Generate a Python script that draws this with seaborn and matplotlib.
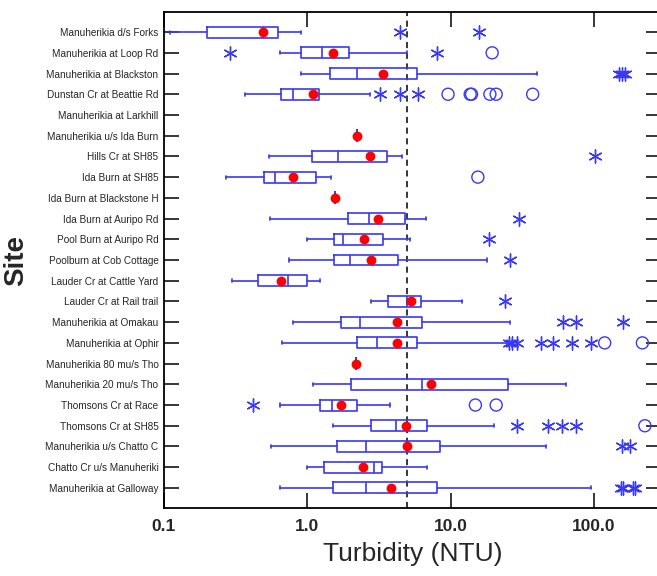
import numpy as np
import pandas as pd
import matplotlib
matplotlib.use("Agg")
import matplotlib.pyplot as plt
import seaborn as sns

sites = [
    "Manuherikia d/s Forks", "Manuherikia at Loop Rd", "Manuherikia at Blackston",
    "Dunstan Cr at Beattie Rd", "Manuherikia at Larkhill", "Manuherikia u/s Ida Burn",
    "Hills Cr at SH85", "Ida Burn at SH85", "Ida Burn at Blackstone H",
    "Ida Burn at Auripo Rd", "Pool Burn at Auripo Rd", "Poolburn at Cob Cottage",
    "Lauder Cr at Cattle Yard", "Lauder Cr at Rail trail", "Manuherikia at Omakau",
    "Manuherikia at Ophir", "Manuherikia 80 mu/s Tho", "Manuherikia 20 mu/s Tho",
    "Thomsons Cr at Race", "Thomsons Cr at SH85", "Manuherikia u/s Chatto C",
    "Chatto Cr u/s Manuheriki", "Manuherikia at Galloway",
]
# box statistics (NTU); None = no data
whis_lo = [0.11, 0.64, 0.90, 0.365, None, 2.24, 0.54, 0.27, 1.55, 0.545, 0.99, 0.75,
           0.30, 2.78, 0.79, 0.67, 2.18, 1.09, 0.64, 1.5, 0.56, 1.0, 0.65]
q1 = [0.20, 0.90, 1.43, 0.655, None, 2.24, 1.07, 0.50, 1.55, 1.92, 1.53, 1.53,
      0.45, 3.64, 1.71, 2.22, 2.18, 2.02, 1.23, 2.78, 1.6, 1.3, 1.5]
median = [0.49, 1.27, 2.21, 0.80, None, 2.24, 1.63, 0.595, 1.55, 2.68, 1.78, 2.0,
          0.73, 5.0, 2.32, 3.07, 2.18, 6.3, 1.49, 4.14, 2.58, 2.93, 2.58]
q3 = [0.62, 1.94, 5.81, 1.21, None, 2.24, 3.6, 1.15, 1.55, 4.8, 3.4, 4.3,
      1.0, 6.2, 6.3, 5.8, 2.18, 25.3, 2.22, 6.9, 8.5, 3.3, 8.0]
whis_hi = [0.91, 5.0, 40.3, 2.73, None, 2.24, 4.6, 1.46, 1.55, 6.7, 5.2, 17.9,
           1.22, 12.0, 26.1, 24.8, 2.18, 64.0, 3.8, 20.1, 46.6, 6.8, 95.0]
mean = [0.49, 1.52, 3.38, 1.09, None, 2.24, 2.75, 0.80, 1.55, 3.1, 2.5, 2.8,
        0.66, 5.3, 4.2, 4.2, 2.18, 7.3, 1.73, 4.9, 5.0, 2.46, 3.86]
# outliers: asterisks (outside) and circles (far outside)
star_out = [
    [4.47, 15.7], [0.29, 8.1], [150, 158, 165], [3.2, 4.4, 5.9], [], [],
    [101.6], [], [], [30.0], [18.6], [26.0], [], [23.8], [60.5, 75.5, 160],
    [25.6, 27.0, 29.0, 42.5, 51.6, 70.0, 96.0], [], [], [0.415],
    [29.0, 48.0, 59.5, 75.0], [157, 178], [], [155, 160, 188, 195],
]
circle_out = [
    [], [19.5], [], [9.6, 13.7, 14.0, 18.8, 20.8, 37.4], [], [], [], [15.5], [], [],
    [], [], [], [], [], [119, 218], [], [], [14.9, 20.8], [227], [], [], [],
]
guideline = 5.0
xticks = [0.1, 1.0, 10.0, 100.0]
xtick_labels = ["0.1", "1.0", "10.0", "100.0"]

sns.set_style("ticks")
plt.rcParams["font.family"] = ["Liberation Sans", "DejaVu Sans"]

blue = "#3a3af0"
fig = plt.figure(figsize=(6.57, 5.76), dpi=100)
# right spine lies just outside the figure, as in the reference (cropped)
ax = fig.add_axes([164 / 657, 1 - 508 / 576, (661 - 164) / 657, (508 - 12) / 576])

stats, pos = [], []
for i in range(len(sites)):
    if median[i] is None:
        continue
    stats.append(dict(med=median[i], q1=q1[i], q3=q3[i], whislo=whis_lo[i],
                      whishi=whis_hi[i], fliers=[]))
    pos.append(i)

ax.bxp(stats, positions=pos, orientation="horizontal", widths=0.53, showfliers=False,
       boxprops=dict(color=blue, lw=1.2), medianprops=dict(color=blue, lw=1.2),
       whiskerprops=dict(color=blue, lw=1.2), capprops=dict(color=blue, lw=1.2),
       capwidths=0.15, manage_ticks=False)

star_df = pd.DataFrame([(v, i) for i, vals in enumerate(star_out) for v in vals],
                       columns=["val", "pos"])
circ_df = pd.DataFrame([(v, i) for i, vals in enumerate(circle_out) for v in vals],
                       columns=["val", "pos"])
mean_df = pd.DataFrame([(m, i) for i, m in enumerate(mean) if m is not None],
                       columns=["val", "pos"])

sns.scatterplot(data=star_df, x="val", y="pos", ax=ax, marker=(6, 2, 0), s=90,
                color=blue, linewidth=1.0, edgecolor=blue, zorder=4)
sns.scatterplot(data=circ_df, x="val", y="pos", ax=ax, marker="o", s=75,
                facecolor="none", edgecolor=blue, linewidth=1.0, zorder=4)
sns.scatterplot(data=mean_df, x="val", y="pos", ax=ax, marker="o", s=50,
                color="#ff0000", edgecolor="#ff0000", linewidth=0, zorder=5)

ax.axvline(guideline, color="black", lw=1.1, ls=(0, (4, 3)), zorder=1)

ax.set_xscale("log")
ax.set_xlim(0.1, 294)
ax.set_ylim(len(sites) - 0.03, -0.97)
ax.set_xticks(xticks, xtick_labels)
ax.minorticks_off()
ax.set_yticks(range(len(sites)), sites)
ax.tick_params(axis="y", direction="in", length=11, width=1.3, labelsize=7.2,
               right=True, left=True, pad=4)
ax.tick_params(axis="x", direction="in", length=11, width=1.3, labelsize=12.5,
               top=True, bottom=True, pad=8)
for lab in ax.get_xticklabels():
    lab.set_fontweight("bold")
for sp in ax.spines.values():
    sp.set_linewidth(1.3)
    sp.set_color("black")

ax.set_xlabel("Turbidity (NTU)", fontsize=19, labelpad=6)
ax.set_ylabel("Site", fontsize=20, fontweight="bold", labelpad=12)

fig.savefig("out.png", dpi=100)
